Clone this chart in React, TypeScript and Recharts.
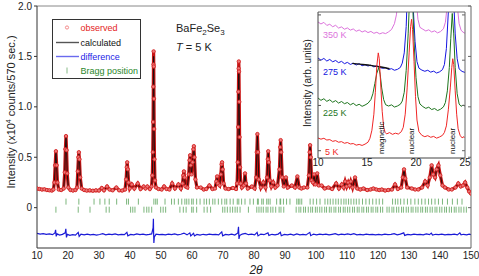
import React from 'react';
import { ComposedChart, LineChart, Line, Scatter, XAxis, YAxis } from 'recharts';

const FONT = '"Liberation Sans", Arial, Helvetica, sans-serif';

// 2theta, observed, calculated  (x10^4 counts / 570 sec.)
const profile: [number, number, number][] = [
  [10, 0.19, 0.185], [10.8, 0.185, 0.183], [11.6, 0.18, 0.18], [12.4, 0.182, 0.178], [13.2, 0.175, 0.176],
  [14.0, 0.172, 0.174], [14.8, 0.17, 0.172], [15.3, 0.18, 0.18], [15.6, 0.25, 0.25], [15.85, 0.42, 0.41],
  [16.1, 0.56, 0.55], [16.35, 0.42, 0.41], [16.6, 0.25, 0.25], [17.0, 0.18, 0.18], [17.8, 0.175, 0.176],
  [18.6, 0.19, 0.19], [18.95, 0.35, 0.34], [19.15, 0.58, 0.57], [19.35, 0.71, 0.7], [19.55, 0.57, 0.56],
  [19.75, 0.34, 0.34], [20.1, 0.2, 0.2], [20.8, 0.175, 0.175], [21.6, 0.17, 0.172], [22.4, 0.175, 0.174],
  [22.9, 0.2, 0.2], [23.15, 0.36, 0.36], [23.35, 0.5, 0.5], [23.5, 0.55, 0.54], [23.7, 0.48, 0.48],
  [23.95, 0.3, 0.3], [24.4, 0.19, 0.19], [25.2, 0.175, 0.176], [26.0, 0.17, 0.172], [27.0, 0.172, 0.172],
  [28.0, 0.168, 0.17], [29.0, 0.172, 0.171], [30.0, 0.17, 0.171], [30.9, 0.195, 0.19], [31.6, 0.172, 0.173],
  [32.6, 0.21, 0.205], [33.4, 0.18, 0.18], [34.4, 0.172, 0.172], [35.6, 0.2, 0.198], [36.5, 0.172, 0.173],
  [37.5, 0.17, 0.171], [38.4, 0.18, 0.18], [38.75, 0.28, 0.28], [38.95, 0.4, 0.39], [39.1, 0.45, 0.44],
  [39.3, 0.38, 0.37], [39.55, 0.25, 0.25], [39.9, 0.19, 0.19], [40.6, 0.23, 0.225], [41.4, 0.19, 0.19],
  [42.5, 0.24, 0.235], [43.4, 0.185, 0.185], [44.4, 0.21, 0.21], [45.0, 0.19, 0.19], [45.6, 0.21, 0.21],
  [46.4, 0.185, 0.185], [46.95, 0.21, 0.21], [47.2, 0.32, 0.31], [47.35, 0.55, 0.52], [47.45, 0.85, 0.82],
  [47.52, 1.2, 1.15], [47.57, 1.42, 1.38], [47.62, 1.55, 1.5], [47.67, 1.4, 1.36], [47.73, 1.08, 1.05],
  [47.8, 0.78, 0.76], [47.9, 0.48, 0.47], [48.05, 0.27, 0.27], [48.4, 0.2, 0.2], [49.2, 0.185, 0.185],
  [50.2, 0.18, 0.18], [51.0, 0.21, 0.21], [51.8, 0.185, 0.185], [52.7, 0.18, 0.18], [53.6, 0.24, 0.235],
  [54.5, 0.19, 0.19], [55.6, 0.23, 0.225], [56.4, 0.19, 0.19], [56.95, 0.24, 0.24], [57.2, 0.32, 0.32],
  [57.4, 0.36, 0.36], [57.6, 0.3, 0.3], [57.9, 0.21, 0.21], [58.5, 0.2, 0.2], [58.95, 0.33, 0.33],
  [59.2, 0.47, 0.46], [59.4, 0.52, 0.51], [59.6, 0.42, 0.42], [59.85, 0.33, 0.33], [60.2, 0.45, 0.45],
  [60.45, 0.58, 0.57], [60.6, 0.61, 0.6], [60.8, 0.5, 0.5], [61.1, 0.28, 0.28], [61.6, 0.2, 0.2],
  [62.8, 0.2, 0.2], [63.8, 0.18, 0.18], [64.6, 0.185, 0.185], [65.6, 0.22, 0.215], [66.6, 0.185, 0.185],
  [67.4, 0.19, 0.19], [67.85, 0.26, 0.26], [68.1, 0.31, 0.31], [68.35, 0.24, 0.24], [68.9, 0.22, 0.22],
  [69.3, 0.33, 0.33], [69.55, 0.43, 0.43], [69.7, 0.45, 0.45], [69.9, 0.38, 0.38], [70.2, 0.24, 0.24],
  [70.8, 0.19, 0.19], [71.8, 0.185, 0.185], [73.2, 0.195, 0.19], [74.2, 0.185, 0.185], [74.55, 0.24, 0.24],
  [74.75, 0.45, 0.43], [74.88, 0.8, 0.77], [74.97, 1.15, 1.1], [75.05, 1.38, 1.33], [75.1, 1.45, 1.4],
  [75.16, 1.35, 1.31], [75.25, 1.05, 1.02], [75.35, 0.7, 0.68], [75.5, 0.4, 0.39], [75.7, 0.24, 0.24],
  [76.1, 0.2, 0.2], [76.7, 0.22, 0.22], [77.1, 0.34, 0.33], [77.4, 0.24, 0.24], [78.0, 0.19, 0.19],
  [79.3, 0.21, 0.21], [80.2, 0.19, 0.19], [80.7, 0.3, 0.3], [80.9, 0.55, 0.54], [81.1, 0.73, 0.72],
  [81.3, 0.55, 0.55], [81.55, 0.28, 0.28], [82.2, 0.2, 0.2], [83.0, 0.25, 0.25], [83.7, 0.2, 0.2],
  [84.2, 0.3, 0.3], [84.45, 0.48, 0.47], [84.6, 0.56, 0.55], [84.8, 0.45, 0.45], [85.1, 0.27, 0.27],
  [85.6, 0.21, 0.21], [86.2, 0.25, 0.25], [86.9, 0.2, 0.2], [87.6, 0.22, 0.22], [88.2, 0.38, 0.38],
  [88.45, 0.6, 0.59], [88.6, 0.67, 0.66], [88.8, 0.55, 0.55], [89.1, 0.3, 0.3], [89.6, 0.21, 0.21],
  [90.3, 0.3, 0.29], [90.9, 0.2, 0.2], [92.2, 0.22, 0.22], [93.2, 0.2, 0.2], [94.0, 0.31, 0.3],
  [94.6, 0.2, 0.2], [95.3, 0.19, 0.19], [96.1, 0.2, 0.2], [97.2, 0.2, 0.2], [97.7, 0.32, 0.32],
  [97.95, 0.55, 0.54], [98.1, 0.62, 0.61], [98.3, 0.5, 0.5], [98.6, 0.27, 0.27], [99.0, 0.25, 0.25],
  [99.4, 0.33, 0.32], [99.8, 0.23, 0.23], [100.4, 0.34, 0.33], [100.9, 0.22, 0.22], [101.8, 0.22, 0.22],
  [102.8, 0.19, 0.19], [104.0, 0.2, 0.2], [105.2, 0.185, 0.185], [106.5, 0.24, 0.235], [107.4, 0.19, 0.19],
  [108.3, 0.23, 0.23], [108.9, 0.2, 0.2], [109.4, 0.26, 0.26], [109.9, 0.21, 0.21], [110.4, 0.25, 0.25],
  [110.8, 0.22, 0.22], [111.2, 0.26, 0.26], [111.8, 0.2, 0.2], [112.6, 0.3, 0.3], [113.3, 0.19, 0.19],
  [114.3, 0.18, 0.18], [115.3, 0.19, 0.19], [116.5, 0.175, 0.175], [117.6, 0.18, 0.18], [118.5, 0.19, 0.19],
  [119.5, 0.18, 0.18], [120.4, 0.175, 0.175], [121.2, 0.18, 0.18], [122.3, 0.17, 0.17], [123.3, 0.175, 0.175],
  [124.5, 0.18, 0.18], [125.5, 0.23, 0.225], [126.4, 0.185, 0.185], [127.5, 0.2, 0.2], [128.0, 0.3, 0.3],
  [128.4, 0.38, 0.38], [128.8, 0.29, 0.29], [129.4, 0.2, 0.2], [130.9, 0.19, 0.19], [132.0, 0.18, 0.18],
  [133.0, 0.18, 0.18], [134.2, 0.2, 0.2], [135.2, 0.26, 0.26], [136.0, 0.22, 0.22], [136.7, 0.3, 0.3],
  [137.3, 0.42, 0.41], [137.8, 0.33, 0.33], [138.4, 0.3, 0.3], [138.9, 0.38, 0.38], [139.5, 0.42, 0.41],
  [140.1, 0.32, 0.32], [140.8, 0.22, 0.22], [141.6, 0.2, 0.2], [142.8, 0.18, 0.18], [143.8, 0.18, 0.18],
  [145.0, 0.2, 0.2], [145.9, 0.24, 0.24], [146.7, 0.21, 0.21], [147.4, 0.22, 0.22], [148.1, 0.25, 0.25],
  [148.8, 0.2, 0.2], [149.4, 0.16, 0.16], [150, 0.14, 0.14],
];

// observed - calculated, drawn with its offset
const difference: [number, number][] = [
  [10, -0.255], [11, -0.262], [12, -0.258], [13, -0.265], [14, -0.26], [15, -0.268], [15.8, -0.25], [16.0, -0.22],
  [16.2, -0.285], [16.5, -0.26], [17.3, -0.272], [18.2, -0.265], [19.1, -0.25], [19.3, -0.21], [19.5, -0.295],
  [19.8, -0.265], [20.6, -0.275], [21.5, -0.268], [22.4, -0.272], [23.3, -0.245], [23.6, -0.285], [24.2, -0.262],
  [25.2, -0.27], [26.2, -0.262], [27.2, -0.27], [28.2, -0.265], [29.2, -0.272], [30.2, -0.266], [31.2, -0.258],
  [32.2, -0.27], [33.2, -0.262], [34.2, -0.268], [35.2, -0.26], [36.2, -0.27], [37.2, -0.265], [38.2, -0.268],
  [39.0, -0.245], [39.3, -0.28], [40.2, -0.265], [41.2, -0.27], [42.2, -0.26], [43.2, -0.268], [44.2, -0.262],
  [45.2, -0.27], [46.2, -0.265], [47.0, -0.26], [47.45, -0.2], [47.55, -0.11], [47.62, -0.25], [47.7, -0.35],
  [47.85, -0.29], [48.4, -0.262], [49.4, -0.268], [50.4, -0.264], [51.4, -0.27], [52.4, -0.262], [53.4, -0.268],
  [54.4, -0.26], [55.4, -0.27], [56.4, -0.264], [57.4, -0.252], [58.4, -0.27], [59.3, -0.25], [59.6, -0.28],
  [60.5, -0.255], [60.8, -0.28], [61.6, -0.266], [62.6, -0.272], [63.6, -0.264], [64.6, -0.27], [65.6, -0.262],
  [66.6, -0.268], [67.6, -0.264], [68.6, -0.27], [69.6, -0.24], [69.9, -0.28], [70.8, -0.266], [71.8, -0.27],
  [72.8, -0.262], [73.8, -0.272], [74.8, -0.25], [75.0, -0.19], [75.15, -0.31], [75.4, -0.275], [76.2, -0.262],
  [77.2, -0.255], [78.2, -0.268], [79.2, -0.262], [80.2, -0.27], [81.0, -0.245], [81.3, -0.28], [82.2, -0.262],
  [83.2, -0.268], [84.5, -0.25], [84.8, -0.275], [85.8, -0.264], [86.8, -0.27], [87.8, -0.262], [88.5, -0.245],
  [88.8, -0.278], [89.8, -0.265], [90.8, -0.27], [91.8, -0.262], [92.8, -0.272], [93.8, -0.26], [94.8, -0.27],
  [95.8, -0.264], [96.8, -0.27], [98.0, -0.245], [98.3, -0.278], [99.2, -0.262], [100.2, -0.27], [101.2, -0.262],
  [102.2, -0.268], [103.2, -0.262], [104.2, -0.27], [105.2, -0.264], [106.2, -0.258], [107.2, -0.27],
  [108.2, -0.262], [109.2, -0.268], [110.2, -0.26], [111.2, -0.268], [112.2, -0.258], [113.2, -0.27],
  [114.2, -0.264], [115.2, -0.27], [116.2, -0.262], [117.2, -0.268], [118.2, -0.264], [119.2, -0.27],
  [120.2, -0.265], [121.2, -0.27], [122.2, -0.262], [123.2, -0.268], [124.2, -0.264], [125.2, -0.258],
  [126.2, -0.27], [127.2, -0.262], [128.3, -0.25], [128.6, -0.275], [129.6, -0.265], [130.6, -0.27],
  [131.6, -0.262], [132.6, -0.268], [133.6, -0.264], [134.6, -0.27], [135.6, -0.26], [136.6, -0.268],
  [137.2, -0.252], [137.6, -0.272], [138.6, -0.264], [139.6, -0.268], [140.6, -0.262], [141.6, -0.27],
  [142.6, -0.264], [143.6, -0.268], [144.6, -0.262], [145.6, -0.27], [146.4, -0.25], [146.8, -0.27],
  [147.6, -0.264], [148.6, -0.27], [149.4, -0.262], [150, -0.268],
];

// Bragg reflections: nuclear (upper row) and magnetic (lower row)
const braggNuclear = [
  19.35, 23.5, 28.4, 30.3, 31.9, 33.3, 35.7, 38.9, 39.5, 42.7, 47.7, 48.3, 48.8, 51.3, 53.4, 54.3, 55.6, 56.7,
  57.7, 58.3, 59.0, 59.9, 60.4, 61.5, 62.6, 63.9, 64.7, 65.6, 66.7, 67.4, 68.5, 69.6, 70.6, 71.2, 72.3, 73.3,
  74.6, 75.1, 76.0, 77.1, 78.7, 79.8, 81.1, 81.4, 82.5, 83.0, 84.1, 84.6, 85.2, 87.3, 88.4, 88.6, 89.5, 90.5,
  91.6, 93.8, 94.3, 94.8, 95.4, 98.1, 99.1, 100.2, 101.3, 102.9, 103.8, 104.6, 105.5, 106.4, 107.2, 108.1,
  109.0, 109.7, 110.5, 111.3, 112.2, 113.0, 113.9, 115.0, 116.1, 117.2, 118.3, 119.4, 120.4, 121.5, 124.7,
  125.6, 126.4, 127.3, 128.4, 129.5, 130.6, 131.9, 133.0, 134.1, 135.2, 136.3, 137.3, 138.4, 139.5, 140.8,
  142.4, 144.0, 145.6, 147.1,
];
const braggMagnetic = [
  16.1, 23.3, 27.1, 32.3, 33.3, 40.2, 40.9, 41.6, 44.5, 45.4, 46.1, 47.0, 49.9, 50.7, 51.5, 56.1, 57.2, 58.1,
  59.9, 60.4, 61.5, 63.9, 64.9, 66.0, 69.9, 70.6, 71.4, 72.3, 73.1, 73.9, 74.6, 75.5, 78.2, 80.9, 81.6, 82.3,
  83.0, 83.9, 84.5, 85.4, 86.1, 87.0, 88.1, 88.7, 89.6, 93.6, 94.5, 95.1, 96.0, 96.6, 97.5, 98.3, 98.9, 99.8,
  100.4, 101.2, 101.9, 102.8, 103.4, 104.3, 104.9, 105.8, 106.4, 107.3, 107.9, 108.8, 109.4, 110.2, 110.9,
  111.8, 112.4, 113.3, 113.9, 114.8, 115.4, 116.3, 116.9, 117.8, 118.4, 119.3, 119.9, 120.8, 121.5, 122.9,
  123.6, 124.5, 125.1, 126.0, 126.7, 127.6, 128.2, 129.1, 129.8, 130.7, 131.3, 132.2, 132.9, 133.8, 134.4,
  135.3, 135.9, 136.8, 137.5, 138.4, 139.0, 139.9, 140.6, 141.5, 142.1, 143.0, 143.7, 144.6, 145.2, 146.1,
  146.8, 147.7, 148.5,
];

const xTicks = [10, 20, 30, 40, 50, 60, 70, 80, 90, 100, 110, 120, 130, 140, 150];
const xMinorTicks = [10, 15, 20, 25, 30, 35, 40, 45, 50, 55, 60, 65, 70, 75, 80, 85, 90, 95, 100, 105, 110, 115, 120, 125, 130, 135, 140, 145, 150];
const yTicks = [0, 0.5, 1, 1.5, 2];

// inset: low-angle region at several temperatures (arb. units)
const insetXTicks = [10, 15, 20, 25];
const insetYTicks = [5, 36, 67, 98];
const inset350K: [number, number][] = [
  [10.0, 93.2], [10.3, 91.8], [10.6, 92.9], [10.9, 90.8], [11.2, 91.6], [11.5, 89.9], [11.8, 90.9], [12.1, 89.0],
  [12.4, 89.8], [12.7, 88.2], [13.0, 89.1], [13.3, 87.6], [13.6, 88.4], [13.9, 86.8], [14.2, 87.7], [14.5, 86.3],
  [14.8, 87.2], [15.1, 85.9], [15.4, 86.7], [15.7, 85.4], [16.0, 86.1], [16.3, 85.0], [16.6, 85.8], [16.9, 85.2],
  [17.2, 86.4], [17.5, 88], [17.8, 92], [18.0, 98], [18.2, 110], [18.4, 130], [18.7, 150], [19.0, 160],
  [19.5, 160], [19.8, 140], [20.0, 110], [20.2, 95], [20.4, 89.5], [20.7, 88.2], [21.0, 87.0], [21.3, 87.8],
  [21.6, 86.3], [21.9, 87.1], [22.2, 85.7], [22.5, 86.6], [22.8, 88.5], [23.0, 93], [23.2, 105], [23.4, 130],
  [23.7, 150], [24.0, 130], [24.2, 105], [24.4, 92], [24.6, 87.5], [24.8, 86.2], [25.0, 85.4],
];
const inset275K: [number, number][] = [
  [10.0, 68.5], [10.3, 67.0], [10.6, 68.2], [10.9, 66.4], [11.2, 67.5], [11.5, 65.9], [11.8, 66.8], [12.1, 65.3],
  [12.4, 66.2], [12.7, 64.6], [13.0, 65.5], [13.3, 64.1], [13.6, 64.9], [13.9, 63.7], [14.2, 64.6], [14.5, 63.2],
  [14.8, 63.9], [15.1, 63.0], [15.4, 63.6], [15.7, 62.4], [16.0, 63.2], [16.3, 62.0], [16.6, 61.4], [16.9, 61.9],
  [17.2, 60.6], [17.5, 61.2], [17.8, 60.1], [18.1, 60.7], [18.4, 62], [18.6, 65], [18.8, 72], [19.0, 90],
  [19.15, 120], [19.3, 140], [19.5, 130], [19.7, 105], [19.9, 80], [20.1, 66], [20.3, 61.5], [20.6, 60.2],
  [20.9, 59.4], [21.2, 60.1], [21.5, 58.8], [21.8, 59.5], [22.1, 58.2], [22.4, 59.0], [22.7, 60.5], [22.9, 64],
  [23.1, 75], [23.3, 100], [23.5, 130], [23.65, 140], [23.8, 115], [24.0, 85], [24.2, 68], [24.4, 61],
  [24.7, 59.3], [25.0, 58.6],
];
const inset275KFit: [number, number][] = [
  [13.5, 64.8], [14.5, 64.1], [15.5, 63.3], [16.3, 62.5], [17.3, 61.1],
];
const inset225K: [number, number][] = [
  [10.0, 41.1], [10.3, 39.5], [10.6, 40.6], [10.9, 38.8], [11.2, 39.9], [11.5, 38.2], [11.8, 39.3], [12.1, 37.6],
  [12.4, 38.7], [12.7, 37.2], [13.0, 38.0], [13.3, 36.4], [13.6, 37.5], [13.9, 35.9], [14.2, 36.8], [14.5, 35.4],
  [14.8, 36.3], [15.1, 37.5], [15.4, 40], [15.6, 44], [15.8, 51], [16.0, 58], [16.2, 62], [16.35, 57],
  [16.5, 48], [16.7, 40], [16.9, 36.5], [17.2, 35.6], [17.5, 36.4], [17.8, 34.9], [18.1, 35.6], [18.4, 36.8],
  [18.6, 39], [18.8, 45], [19.0, 60], [19.2, 85], [19.35, 110], [19.5, 125], [19.65, 108], [19.8, 80],
  [20.0, 55], [20.2, 42], [20.4, 37], [20.7, 35.2], [21.0, 34.0], [21.3, 34.8], [21.6, 33.2], [21.9, 33.9],
  [22.2, 32.5], [22.5, 33.4], [22.8, 35], [23.0, 38], [23.2, 46], [23.4, 62], [23.55, 82], [23.7, 99],
  [23.85, 85], [24.0, 62], [24.2, 44], [24.4, 37], [24.6, 35.4], [24.8, 36.2], [25.0, 35.6],
];
const inset5K: [number, number][] = [
  [10.0, 13.7], [10.3, 12.9], [10.6, 13.5], [10.9, 12.3], [11.2, 12.6], [11.5, 11.4], [11.8, 11.9], [12.1, 10.8],
  [12.4, 11.2], [12.7, 10.1], [13.0, 10.6], [13.3, 9.6], [13.6, 9.9], [13.9, 8.8], [14.2, 9.3], [14.5, 8.6],
  [14.8, 9.5], [15.1, 10.8], [15.3, 13.5], [15.5, 19], [15.7, 30], [15.85, 45], [16.0, 63], [16.15, 72],
  [16.25, 68], [16.4, 50], [16.55, 32], [16.7, 21], [16.85, 17.5], [17.0, 16.5], [17.3, 17.4], [17.6, 16.2],
  [17.9, 17.0], [18.2, 16.4], [18.5, 18.0], [18.7, 21], [18.9, 30], [19.1, 48], [19.3, 72], [19.45, 90],
  [19.55, 95], [19.65, 88], [19.8, 66], [19.95, 42], [20.1, 26], [20.3, 18], [20.6, 15.5], [20.9, 14.6],
  [21.2, 15.3], [21.5, 14.2], [21.8, 14.8], [22.1, 13.6], [22.4, 14.4], [22.7, 15.5], [22.9, 17.5], [23.1, 22],
  [23.3, 33], [23.5, 48], [23.65, 62], [23.75, 68], [23.85, 64], [24.0, 46], [24.15, 30], [24.3, 20],
  [24.5, 15.5], [24.7, 13.8], [24.9, 14.6], [25.0, 13.9],
];

const xy = (rows: number[][], col = 1) => rows.map((r) => ({ x: r[0], y: r[col] }));

const NoLabel = () => <g />;

const BraggTick = (props: any) => (
  <line x1={props.cx} x2={props.cx} y1={props.cy - 3} y2={props.cy + 3} stroke="#5aa35a" strokeWidth={0.8} />
);

const tickStyle = { fontSize: 10, fill: '#222', fontFamily: FONT };

function MainChart() {
  return (
    <ComposedChart width={479} height={276} margin={{ top: 6, right: 8, bottom: 0, left: 0 }}>
      <XAxis
        xAxisId={0}
        dataKey="x"
        type="number"
        domain={[10, 150]}
        allowDataOverflow
        ticks={xTicks}
        interval={0}
        height={28}
        tickLine={false}
        tickSize={3}
        tickMargin={1}
        tick={tickStyle}
        axisLine={{ stroke: '#333' }}
      />
      <XAxis xAxisId="bm" type="number" domain={[10, 150]} allowDataOverflow ticks={xMinorTicks} interval={0}
        mirror tickSize={3} tick={NoLabel} axisLine={false} tickLine={{ stroke: '#555' }} />
      <XAxis xAxisId="top" orientation="top" type="number" domain={[10, 150]} allowDataOverflow ticks={xMinorTicks}
        interval={0} mirror tickSize={3} tick={NoLabel} axisLine={{ stroke: '#888' }} tickLine={{ stroke: '#777' }} />
      <YAxis
        yAxisId={0}
        dataKey="y"
        type="number"
        domain={[-0.4, 2]}
        allowDataOverflow
        ticks={yTicks}
        interval={0}
        width={37}
        tickSize={3}
        tickMargin={2}
        tick={tickStyle}
        tickFormatter={(v: number) => (v === 0 ? '0' : v.toFixed(1))}
        axisLine={{ stroke: '#333' }}
        tickLine={{ stroke: '#333' }}
      />
      <YAxis yAxisId="right" orientation="right" type="number" domain={[-0.4, 2]} allowDataOverflow ticks={yTicks}
        interval={0} mirror tickSize={3} tick={NoLabel} axisLine={{ stroke: '#666' }} tickLine={{ stroke: '#666' }} />

      <Line data={xy(profile, 1)} dataKey="y" type="linear" stroke="#c81212" strokeWidth={3.2}
        dot={{ r: 1.7, stroke: '#d42222', strokeWidth: 0.9, fill: '#ec7a7a' }} isAnimationActive={false} />
      <Line data={xy(profile, 2)} dataKey="y" type="linear" stroke="#111" strokeWidth={0.9} dot={false}
        isAnimationActive={false} />
      <Line data={xy(difference)} dataKey="y" type="linear" stroke="#1a1ad6" strokeWidth={1.2} dot={false}
        isAnimationActive={false} />
      <Scatter data={braggNuclear.map((x) => ({ x, y: 0.06 }))} shape={BraggTick} isAnimationActive={false} />
      <Scatter data={braggMagnetic.map((x) => ({ x, y: -0.02 }))} shape={BraggTick} isAnimationActive={false} />
    </ComposedChart>
  );
}

function InsetChart() {
  return (
    <LineChart width={179} height={176} margin={{ top: 12, right: 14, bottom: 0, left: 18 }}>
      <XAxis xAxisId={0} dataKey="x" type="number" domain={[10, 25]} allowDataOverflow ticks={insetXTicks}
        interval={0} height={18} tickLine={false} tickSize={0} tickMargin={1} tick={tickStyle}
        axisLine={{ stroke: '#444' }} />
      <XAxis xAxisId="bm" type="number" domain={[10, 25]} allowDataOverflow ticks={insetXTicks} interval={0}
        mirror tickSize={3} tick={NoLabel} axisLine={false} tickLine={{ stroke: '#555' }} />
      <XAxis xAxisId="top" orientation="top" type="number" domain={[10, 25]} allowDataOverflow ticks={insetXTicks}
        interval={0} mirror tickSize={3} tick={NoLabel} axisLine={{ stroke: '#666' }} tickLine={{ stroke: '#666' }} />
      <YAxis yAxisId={0} dataKey="y" type="number" domain={[0, 100]} allowDataOverflow ticks={insetYTicks}
        interval={0} mirror tickSize={3} tick={NoLabel} axisLine={{ stroke: '#444' }} tickLine={{ stroke: '#555' }} />
      <YAxis yAxisId="right" orientation="right" type="number" domain={[0, 100]} allowDataOverflow ticks={insetYTicks}
        interval={0} mirror tickSize={3} tick={NoLabel} axisLine={{ stroke: '#666' }} tickLine={{ stroke: '#666' }} />

      <Line data={xy(inset350K)} dataKey="y" stroke="#dc72dc" strokeWidth={1} dot={false} isAnimationActive={false} />
      <Line data={xy(inset275K)} dataKey="y" stroke="#1414e0" strokeWidth={1} dot={false} isAnimationActive={false} />
      <Line data={xy(inset275KFit)} dataKey="y" type="monotone" stroke="#111" strokeWidth={1.4} dot={false}
        isAnimationActive={false} />
      <Line data={xy(inset225K)} dataKey="y" stroke="#1d741d" strokeWidth={1} dot={false} isAnimationActive={false} />
      <Line data={xy(inset5K)} dataKey="y" stroke="#f02626" strokeWidth={1} dot={false} isAnimationActive={false} />
    </LineChart>
  );
}

const legendItems = [
  { label: 'observed', color: '#e42222', kind: 'dot', y: 28 },
  { label: 'calculated', color: '#111', kind: 'line', y: 42.5 },
  { label: 'difference', color: '#2424e6', kind: 'line', y: 56.5 },
  { label: 'Bragg position', color: '#2a862a', kind: 'tick', y: 70.5 },
];

function Annotations() {
  return (
    <svg width={479} height={276} style={{ position: 'absolute', left: 0, top: 0, pointerEvents: 'none' }}
      fontFamily={FONT}>
      <text transform="rotate(-90)" x={-112} y={15} textAnchor="middle" fontSize={11} fill="#222">
        Intensity (x10<tspan dy={-4} fontSize={7}>4</tspan>
        <tspan dy={4}> counts/570 sec.)</tspan>
      </text>
      <text x={256} y={273.5} textAnchor="middle" fontSize={12} fontStyle="italic" fill="#222">2θ</text>

      <rect x={52.5} y={19.5} width={88} height={59} fill="none" stroke="#333" strokeWidth={1} />
      {legendItems.map((it) => (
        <g key={it.label}>
          {it.kind === 'dot' && <circle cx={67} cy={it.y - 0.5} r={1.6} fill="none" stroke="#f07070" strokeWidth={0.8} />}
          {it.kind === 'line' && (
            <line x1={56} x2={79} y1={it.y} y2={it.y} stroke={it.label === 'difference' ? '#6a6aee' : '#555'}
              strokeWidth={1.4} />
          )}
          {it.kind === 'tick' && <line x1={67} x2={67} y1={it.y - 3} y2={it.y + 3} stroke="#6aaa6a" strokeWidth={0.8} />}
          <text x={80.5} y={it.y + 3.3} fontSize={9} fill={it.color}>{it.label}</text>
        </g>
      ))}

      <text x={176} y={32} fontSize={11} fill="#222">
        BaFe<tspan dy={3} fontSize={8}>2</tspan>
        <tspan dy={-3}>Se</tspan>
        <tspan dy={3} fontSize={8}>3</tspan>
      </text>
      <text x={176} y={51} fontSize={11} fill="#222">
        <tspan fontStyle="italic">T</tspan> = 5 K
      </text>

      <text transform="rotate(-90)" x={-83} y={311} textAnchor="middle" fontSize={10} fill="#222">
        Intensity (arb. units)
      </text>
      <text x={323} y={38} fontSize={9} fill="#dc72dc">350 K</text>
      <text x={323} y={74.5} fontSize={9} fill="#1414e0">275 K</text>
      <text x={323} y={115.5} fontSize={9} fill="#1d741d">225 K</text>
      <text x={325} y={154.5} fontSize={9} fill="#f02626">5 K</text>
      <text transform="rotate(-90)" x={-154} y={383.5} fontSize={8} fill="#111">magnetic</text>
      <text transform="rotate(-90)" x={-154} y={414} fontSize={8} fill="#111">nuclear</text>
      <text transform="rotate(-90)" x={-154} y={455} fontSize={8} fill="#111">nuclear</text>
    </svg>
  );
}

export default function App() {
  return (
    <div style={{ position: 'absolute', left: 0, top: 0, width: 479, height: 276, background: '#fff', fontFamily: FONT }}>
      <div style={{ position: 'absolute', left: 0, top: 0 }}>
        <MainChart />
      </div>
      <div style={{ position: 'absolute', left: 318, top: 12, width: 147, height: 146, background: '#fff' }} />
      <div style={{ position: 'absolute', left: 300, top: 0 }}>
        <InsetChart />
      </div>
      <Annotations />
    </div>
  );
}
